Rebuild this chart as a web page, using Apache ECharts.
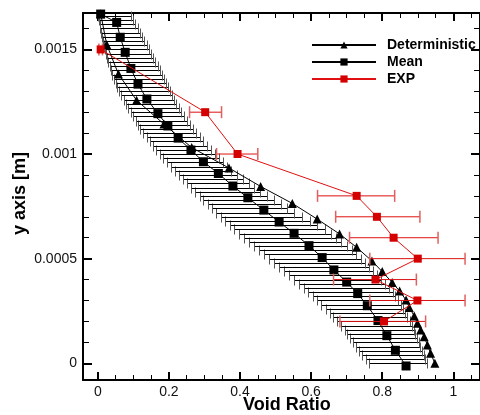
<!DOCTYPE html>
<html><head><meta charset="utf-8">
<script src="https://cdn.jsdelivr.net/npm/echarts@6/dist/echarts.min.js"></script>
<style>html,body{margin:0;padding:0;background:#fff}#c{width:480px;height:415px}</style>
</head><body><div id="c"></div>
<script>
// ---- data ----
const xTickLabels = [0, 0.2, 0.4, 0.6, 0.8, 1];
const xMinorTicks = [0.05,0.1,0.15,0.25,0.3,0.35,0.45,0.5,0.55,0.65,0.7,0.75,0.85,0.9,0.95,1.05];
const yTickLabels = [0, 0.0005, 0.001, 0.0015];
const yMinorTicks = [0.0001,0.0002,0.0003,0.0004,0.0006,0.0007,0.0008,0.0009,0.0011,0.0012,0.0013,0.0014,0.0016];

const detX = [0.008,0.025,0.058,0.109,0.186,0.264,0.369,0.458,0.547,0.617,0.680,0.728,0.771,0.800,0.828,0.849,0.867,0.876,0.890,0.899,0.908,0.918,0.927,0.936,0.948];
const detY = [0.001671,0.001523,0.001382,0.001257,0.001143,0.001031,0.000933,0.000845,0.000764,0.000689,0.000618,0.000554,0.000489,0.000438,0.000386,0.000345,0.000302,0.000267,0.000226,0.000191,0.000159,0.000127,0.000087,0.000048,0.0];

const meanX = [0.008,0.053,0.063,0.077,0.093,0.113,0.138,0.169,0.197,0.226,0.262,0.297,0.339,0.380,0.422,0.467,0.510,0.552,0.594,0.631,0.664,0.700,0.731,0.758,0.788,0.813,0.837,0.867];
const meanY = [0.001669,0.001629,0.001558,0.001486,0.001409,0.001334,0.001263,0.001193,0.001134,0.001076,0.001019,0.000963,0.000907,0.000847,0.000791,0.000732,0.000675,0.000621,0.000562,0.000505,0.000446,0.000388,0.000333,0.000275,0.000204,0.000132,0.000062,-0.000013];

const barY = [0,0.00002,0.00004,0.00006,0.00008,0.0001,0.00012,0.00014,0.00016,0.00018,0.0002,0.00022,0.00024,0.00026,0.00028,0.0003,0.00032,0.00034,0.00036,0.00038,0.0004,0.00042,0.00044,0.00046,0.00048,0.0005,0.00052,0.00054,0.00056,0.00058,0.0006,0.00062,0.00064,0.00066,0.00068,0.0007,0.00072,0.00074,0.00076,0.00078,0.0008,0.00082,0.00084,0.00086,0.00088,0.0009,0.00092,0.00094,0.00096,0.00098,0.001,0.00102,0.00104,0.00106,0.00108,0.0011,0.00112,0.00114,0.00116,0.00118,0.0012,0.00122,0.00124,0.00126,0.00128,0.0013,0.00132,0.00134,0.00136,0.00138,0.0014,0.00142,0.00144,0.00146,0.00148,0.0015,0.00152,0.00154,0.00156,0.00158,0.0016,0.00162,0.00164,0.00166];
const barLo = [0.763,0.754,0.744,0.735,0.726,0.718,0.710,0.702,0.694,0.683,0.673,0.662,0.652,0.641,0.629,0.616,0.604,0.592,0.579,0.565,0.551,0.537,0.523,0.509,0.495,0.481,0.468,0.454,0.440,0.426,0.412,0.398,0.384,0.371,0.359,0.346,0.333,0.321,0.309,0.297,0.286,0.274,0.262,0.250,0.239,0.227,0.216,0.205,0.195,0.184,0.174,0.164,0.155,0.146,0.137,0.128,0.120,0.113,0.106,0.099,0.092,0.086,0.079,0.073,0.066,0.060,0.055,0.050,0.045,0.041,0.036,0.033,0.029,0.026,0.022,0.019,0.016,0.014,0.012,0.009,0.007,0.005,0.003,0.001];
const barHi = [0.926,0.921,0.917,0.912,0.907,0.903,0.898,0.893,0.889,0.883,0.877,0.871,0.865,0.859,0.852,0.844,0.836,0.829,0.819,0.808,0.797,0.786,0.775,0.763,0.751,0.739,0.727,0.715,0.700,0.685,0.670,0.655,0.639,0.617,0.596,0.574,0.553,0.532,0.514,0.495,0.476,0.457,0.440,0.424,0.407,0.391,0.375,0.363,0.352,0.341,0.329,0.319,0.308,0.297,0.287,0.276,0.267,0.259,0.251,0.243,0.235,0.228,0.221,0.215,0.208,0.202,0.196,0.191,0.186,0.181,0.175,0.169,0.162,0.156,0.149,0.143,0.137,0.131,0.124,0.118,0.112,0.105,0.099,0.092];

const expX  = [0.008,0.302,0.393,0.728,0.785,0.832,0.900,0.781,0.899,0.805];
const expY  = [0.0015,0.0012,0.001,0.0008,0.0007,0.0006,0.0005,0.0004,0.0003,0.0002];
const expLo = [0.003,0.258,0.334,0.618,0.669,0.708,0.765,0.663,0.765,0.681];
const expHi = [0.013,0.348,0.450,0.835,0.906,0.957,1.033,0.896,1.033,0.922];

// ---- chart ----
const XMIN = -0.0417, XMAX = 1.075, YMIN = -0.00008, YMAX = 0.001674;
const chart = echarts.init(document.getElementById('c'), null, {renderer:'canvas'});
const FONT = 'Liberation Sans, Arial, sans-serif';
const gridBox = {left:83, top:13, width:402, height:367};

function xAx(gi, pos, ticks, len, w, labels, showLine){
  return {type:'value', gridIndex:gi, position:pos, min:XMIN, max:XMAX,
    axisLine:{show:showLine, onZero:false, lineStyle:{color:'#000', width:2}},
    axisTick:{show:true, inside:true, length:len, customValues:ticks, lineStyle:{color:'#000', width:w}},
    axisLabel:{show:!!labels, customValues:labels||[], margin:5, color:'#111', fontSize:14, fontFamily:FONT, formatter:v=>String(v)},
    splitLine:{show:false}};
}
function yAx(gi, pos, ticks, len, w, labels, showLine){
  return {type:'value', gridIndex:gi, position:pos, min:YMIN, max:YMAX,
    axisLine:{show:showLine, onZero:false, lineStyle:{color:'#000', width:2}},
    axisTick:{show:true, inside:true, length:len, customValues:ticks, lineStyle:{color:'#000', width:w}},
    axisLabel:{show:!!labels, customValues:labels||[], margin:6, color:'#111', fontSize:14, fontFamily:FONT, formatter:v=>String(v)},
    splitLine:{show:false}};
}

function barRender(color, lineColor, capH, capW, crisp){
  return function(params, api){
    const y = api.value(0), lo = api.value(1), hi = api.value(2);
    const p1 = api.coord([lo, y]), p2 = api.coord([hi, y]);
    let yy = p1[1];
    if (crisp) yy = Math.round(yy) + 0.5;
    const h = capH/2;
    const x1 = crisp ? Math.round(p1[0]) + 0.5 : p1[0];
    const x2 = crisp ? Math.round(p2[0]) + 0.5 : p2[0];
    return {type:'group', children:[
      {type:'line', shape:{x1:x1, y1:yy, x2:x2, y2:yy}, style:{stroke:lineColor, lineWidth:1}},
      {type:'line', shape:{x1:x1, y1:yy-h, x2:x1, y2:yy+h}, style:{stroke:color, lineWidth:capW}},
      {type:'line', shape:{x1:x2, y1:yy-h, x2:x2, y2:yy+h}, style:{stroke:color, lineWidth:capW}}
    ]};
  };
}

const option = {
  animation:false,
  backgroundColor:'#fff',
  grid:[Object.assign({}, gridBox), Object.assign({}, gridBox)],
  xAxis:[
    xAx(0,'bottom',xTickLabels,8,2,xTickLabels,true),
    xAx(0,'top',xTickLabels,8,2,null,true),
    xAx(1,'bottom',xMinorTicks,5,1,null,false),
    xAx(1,'top',xMinorTicks,5,1,null,false)
  ],
  yAxis:[
    yAx(0,'left',yTickLabels,9,2,yTickLabels,true),
    yAx(0,'right',yTickLabels,9,2,null,true),
    yAx(1,'left',yMinorTicks,6,1,null,false),
    yAx(1,'right',yMinorTicks,6,1,null,false)
  ],
  legend:{
    orient:'vertical', left:306, top:33, itemWidth:64, itemHeight:9, itemGap:3,
    data:['Deterministic','Mean','EXP'],
    textStyle:{fontFamily:FONT, fontWeight:'bold', fontSize:14, color:'#000', lineHeight:14, padding:[0,0,0,6]}
  },
  graphic:[
    {type:'text', rotation:Math.PI/2, x:11, y:235, style:{text:'y axis [m]', font:'bold 18px '+FONT, fill:'#000'}},
    {type:'text', x:243, y:396, style:{text:'Void Ratio', font:'bold 18px '+FONT, fill:'#000'}}
  ],
  series:[
    {type:'custom', name:'meanbars', xAxisIndex:0, yAxisIndex:0, renderItem:barRender('#555','#000',10,1,true),
      encode:{x:[1,2], y:0}, data:barY.map((y,i)=>[y, barLo[i], barHi[i]]), z:1},
    {type:'line', name:'Mean', xAxisIndex:0, yAxisIndex:0, data:meanX.map((x,i)=>[x, meanY[i]]),
      symbol:'rect', symbolSize:9, showAllSymbol:true, itemStyle:{color:'#000'}, lineStyle:{color:'#000', width:1}, z:3},
    {type:'line', name:'Deterministic', xAxisIndex:0, yAxisIndex:0, data:detX.map((x,i)=>[x, detY[i]]),
      symbol:'triangle', symbolSize:9, showAllSymbol:true, itemStyle:{color:'#000'}, lineStyle:{color:'#000', width:1}, z:4},
    {type:'custom', name:'expbars', xAxisIndex:0, yAxisIndex:0, renderItem:barRender('#e06060','#dd1111',12,1.5,false),
      encode:{x:[1,2], y:0}, data:expY.map((y,i)=>[y, expLo[i], expHi[i]]), z:5},
    {type:'line', name:'EXP', xAxisIndex:0, yAxisIndex:0, data:expX.map((x,i)=>[x, expY[i]]),
      symbol:'rect', symbolSize:8, showAllSymbol:true, itemStyle:{color:'#d40000'}, lineStyle:{color:'#e01010', width:1}, z:6}
  ]
};
chart.setOption(option);
</script></body></html>
